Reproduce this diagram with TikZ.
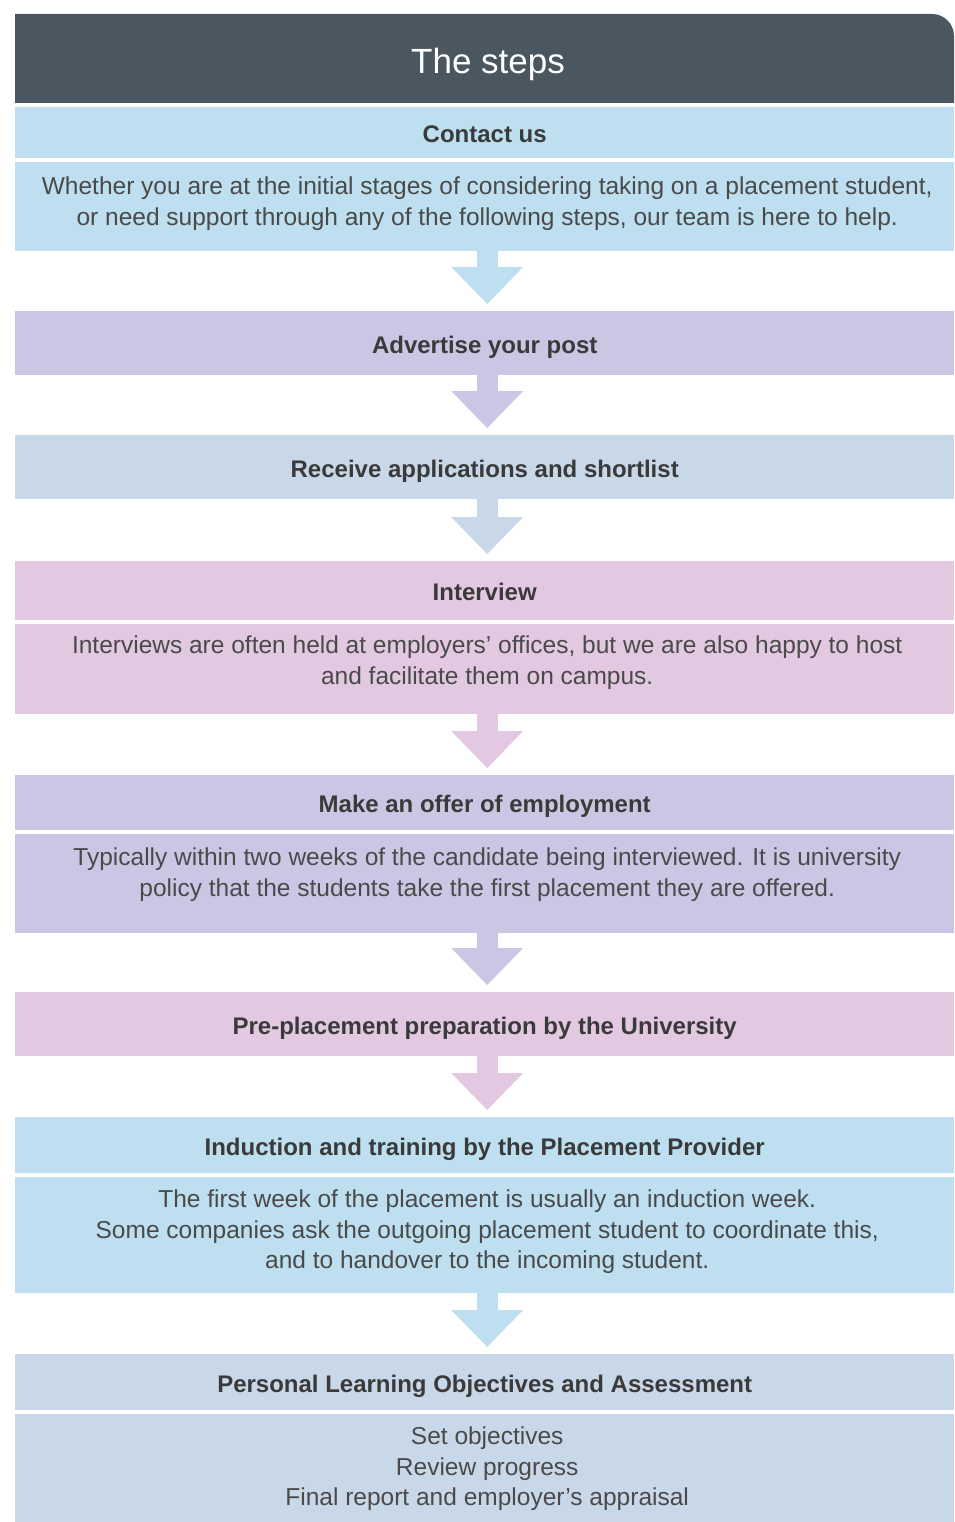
\documentclass[tikz,border=0pt]{standalone}
\usepackage{fontspec}
\setmainfont{Liberation Sans}
\usetikzlibrary{arrows.meta, positioning}
\definecolor{slate}{RGB}{74,87,96}
\definecolor{skyblue}{RGB}{189,223,239}
\definecolor{lilac}{RGB}{202,199,228}
\definecolor{mist}{RGB}{200,216,233}
\definecolor{rose}{RGB}{226,200,225}
\definecolor{ink}{RGB}{58,58,58}
\definecolor{inkl}{RGB}{74,74,74}

\tikzset{
  band/.style={rectangle, fill=#1, inner sep=0pt, minimum width=939pt, anchor=north west},
  title/.style={font=\bfseries\fontsize{24}{30}\selectfont, text=ink, text height=20pt, text depth=0pt},
  body/.style={font=\fontsize{24.5}{30.5}\selectfont, text=inkl, align=center, anchor=north, inner sep=0pt, xshift=2.5pt},
  flow/.style={draw=#1, line width=21pt, -{Triangle[width=72pt,length=37pt,line width=0pt]}, shorten >=7pt}
}

\begin{document}
\begin{tikzpicture}[x=1pt,y=1pt]
\useasboundingbox (0,0) rectangle (954,-1522);
% header with its one round corner
\fill[slate] (15,-103) -- (15,-14) -- (932,-14) arc[start angle=90,end angle=0,radius=22] -- (954,-103) -- cycle;
\node[text=white, font=\fontsize{35}{40}\selectfont, text height=25pt, text depth=0pt] (head) at (488,-61) {The steps};

% the steps
\node[band=skyblue, minimum height=51pt, title] (contact) at (15,-107) {Contact us};
\node[band=skyblue, minimum height=89pt] (contactb) at (15,-162) {};
\node[body, below=15pt of contactb.north] (contacttxt) {Whether you are at the initial stages of considering taking on a placement student,\\ or need support through any of the following steps, our team is here to help.};

\node[band=lilac, minimum height=64pt, title] (advert) at (15,-311) {Advertise your post};

\node[band=mist, minimum height=64pt, title] (receive) at (15,-435) {Receive applications and shortlist};

\node[band=rose, minimum height=59pt, title] (interview) at (15,-561) {Interview};
\node[band=rose, minimum height=90pt] (interviewb) at (15,-624) {};
\node[body, below=12pt of interviewb.north] (interviewtxt) {Interviews are often held at employers’ offices, but we are also happy to host\\ and facilitate them on campus.};

\node[band=lilac, minimum height=55pt, title] (offer) at (15,-775) {Make an offer of employment};
\node[band=lilac, minimum height=99pt] (offerb) at (15,-834) {};
\node[body, below=14pt of offerb.north] (offertxt) {Typically within two weeks of the candidate being interviewed. It is university\\ policy that the students take the first placement they are offered.};

\node[band=rose, minimum height=64pt, title] (prep) at (15,-992) {Pre-placement preparation by the University};

\node[band=skyblue, minimum height=56pt, title] (induction) at (15,-1117) {Induction and training by the Placement Provider};
\node[band=skyblue, minimum height=116pt] (inductionb) at (15,-1177) {};
\node[body, below=13pt of inductionb.north] (inductiontxt) {The first week of the placement is usually an induction week.\\ Some companies ask the outgoing placement student to coordinate this,\\ and to handover to the incoming student.};

\node[band=mist, minimum height=56pt, title] (personal) at (15,-1354) {Personal Learning Objectives and Assessment};
\node[band=mist, minimum height=108pt] (personalb) at (15,-1414) {};
\node[body, below=13pt of personalb.north] (personaltxt) {Set objectives\\ Review progress\\ Final report and employer’s appraisal};

% arrows between the steps
\foreach \a/\b/\col in {contactb/advert/skyblue, advert/receive/lilac, receive/interview/mist,
  interviewb/offer/rose, offerb/prep/lilac, prep/induction/rose, inductionb/personal/skyblue}{
  \draw[flow=\col] ([xshift=2.5pt]\a.south) -- ([xshift=2.5pt]\b.north);
}
\end{tikzpicture}
\end{document}
